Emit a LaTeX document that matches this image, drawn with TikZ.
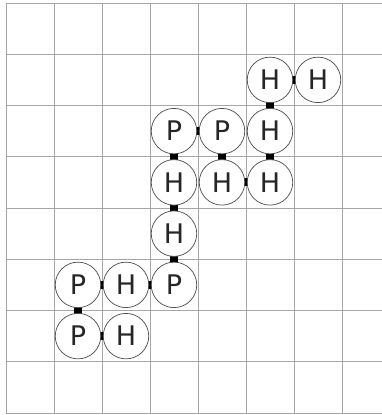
\documentclass[tikz,border=0pt]{standalone}
\usepackage{fontspec}
\setmainfont{DejaVu Sans}
\pgfdeclarelayer{gridlayer}
\pgfdeclarelayer{bondlayer}
\pgfsetlayers{gridlayer,bondlayer,main}
\begin{document}
\begin{tikzpicture}[x=1pt,y=-1pt,
  mono/.style={circle,draw=black!70,line width=0.7pt,fill=white,minimum size=45.5pt,inner sep=0pt,font=\fontsize{27}{27}\selectfont,text=black!85},
  bond/.style={line width=8pt,black},
  gridline/.style={black!35,line width=0.8pt}]
\useasboundingbox (0,0) rectangle (382,415);
\begin{pgfonlayer}{gridlayer}
  \foreach \x in {6,54,...,342} \draw[gridline] (\x,3) -- (\x,413);
  \foreach \i in {0,...,8} \draw[gridline] (6,{3+51.25*\i}) -- (382,{3+51.25*\i});
\end{pgfonlayer}
% chain of monomers
\node[mono] (n1)  at (126,336.125) {H};
\node[mono] (n2)  at (78,336.125)  {P};
\node[mono] (n3)  at (78,284.875)  {P};
\node[mono] (n4)  at (126,284.875) {H};
\node[mono] (n5)  at (174,284.875) {P};
\node[mono] (n6)  at (174,233.625) {H};
\node[mono] (n7)  at (174,182.375) {H};
\node[mono] (n8)  at (174,131.125) {P};
\node[mono] (n9)  at (222,131.125) {P};
\node[mono] (n10) at (222,182.375) {H};
\node[mono] (n11) at (270,182.375) {H};
\node[mono] (n12) at (270,131.125) {H};
\node[mono] (n13) at (270,79.875)  {H};
\node[mono] (n14) at (318,79.875)  {H};
\begin{pgfonlayer}{bondlayer}
  \foreach \a/\b in {n1/n2,n2/n3,n3/n4,n4/n5,n5/n6,n6/n7,n7/n8,n8/n9,n9/n10,n10/n11,n11/n12,n12/n13,n13/n14}
    \draw[bond] (\a.center) -- (\b.center);
\end{pgfonlayer}
\end{tikzpicture}
\end{document}
